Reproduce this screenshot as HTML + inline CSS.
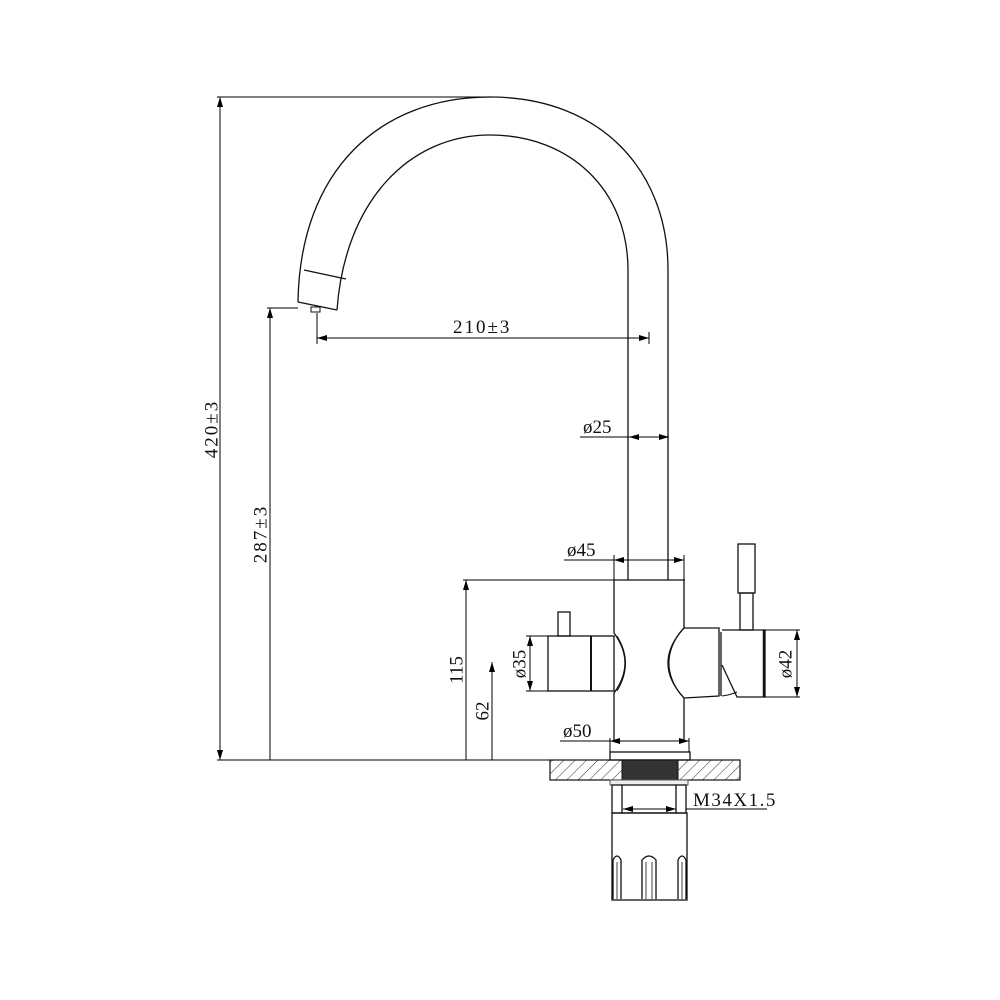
<!DOCTYPE html>
<html><head><meta charset="utf-8"><style>
html,body{margin:0;padding:0;background:#fff}
svg{display:block}
text{font-family:"Liberation Serif",serif;font-size:19px;fill:#111}
</style></head><body>
<svg width="1000" height="1000" viewBox="0 0 1000 1000" xmlns="http://www.w3.org/2000/svg">
<defs>
<marker id="a" viewBox="0 0 10 6" refX="10" refY="3" markerWidth="10" markerHeight="6" markerUnits="userSpaceOnUse" orient="auto"><path d="M0,0 L10,3 L0,6 z" fill="#000"/></marker>
<pattern id="h" width="8" height="8" patternUnits="userSpaceOnUse" patternTransform="rotate(45)"><line x1="0" y1="0" x2="0" y2="8" stroke="#333" stroke-width="1"/></pattern>
</defs>
<g fill="none" stroke="#111" stroke-width="1.3">
<path d="M298 302 C300 170 380 97 490 97 C600 97 668 170 668 270 L668 580"/>
<path d="M337 310 C345 200 410 135 490 135 C570 135 628 190 628 270 L628 580"/>
<line x1="304" y1="270" x2="346" y2="279"/>
<line x1="298" y1="302" x2="337" y2="310"/>
<rect x="311" y="307" width="9" height="5" stroke-width="1"/>
<line x1="613" y1="580" x2="685" y2="580"/>
<path d="M614 580 L614 633 Q636 663 614 693 L614 740"/>
<path d="M684 580 L684 628 Q652 663 684 698 L684 740"/>
<path d="M617 636 Q634 663 617 691" stroke-width="1"/>
<path d="M681 631 Q657 663 681 695" stroke-width="1"/>
<rect x="548" y="636" width="66" height="55"/>
<line x1="591" y1="636" x2="591" y2="691" stroke-width="2"/>
<rect x="558" y="612" width="12" height="24"/>
<path d="M684 628 L719 628 L719 696 L684 698"/>
<line x1="721" y1="632" x2="721" y2="696"/>
<path d="M722 630 L765 630 L765 697 L737 697 L722 665"/>
<line x1="764" y1="630" x2="764" y2="697" stroke-width="2.5"/>
<path d="M722 696 Q730 695 737 692" stroke-width="1"/>
<rect x="738" y="544" width="17" height="49"/>
<rect x="740" y="593" width="13" height="37"/>
<rect x="610" y="752" width="80" height="8"/>
</g>
<rect x="550" y="760" width="190" height="20" fill="url(#h)" stroke="#111" stroke-width="1.2"/>
<rect x="622" y="760" width="56" height="20" fill="#333" stroke="#111"/>
<rect x="610" y="780" width="78" height="5" fill="#eee" stroke="#555"/>
<g fill="none" stroke="#111" stroke-width="1.3">
<rect x="612" y="785" width="74" height="28"/>
<line x1="622" y1="785" x2="622" y2="813"/>
<line x1="676" y1="785" x2="676" y2="813"/>
<rect x="612" y="813" width="75" height="87"/>
<path d="M613 899 L613 860 Q617 852 621 860 L621 899"/>
<path d="M617 862 L617 899" stroke-width="0.8"/>
<path d="M642 899 L642 860 Q649 852 656 860 L656 899"/>
<path d="M646 862 L646 899 M652 862 L652 899" stroke-width="0.8"/>
<path d="M678 899 L678 860 Q682 852 686 860 L686 899"/>
<path d="M682 862 L682 899" stroke-width="0.8"/>
</g>
<g stroke="#000" stroke-width="1" fill="none">
<line x1="217" y1="97" x2="490" y2="97"/>
<line x1="217" y1="760" x2="550" y2="760"/>
<line x1="220" y1="760" x2="220" y2="97" marker-end="url(#a)"/>
<line x1="220" y1="97" x2="220" y2="760" marker-end="url(#a)"/>
<line x1="267" y1="308" x2="298" y2="308"/>
<line x1="270" y1="760" x2="270" y2="308" marker-end="url(#a)"/>
<line x1="463" y1="580" x2="613" y2="580"/>
<line x1="466" y1="760" x2="466" y2="580" marker-end="url(#a)"/>
<line x1="492" y1="760" x2="492" y2="662" marker-end="url(#a)"/>
<line x1="317" y1="313" x2="317" y2="344"/>
<line x1="649" y1="332" x2="649" y2="344"/>
<line x1="317" y1="338" x2="649" y2="338" marker-end="url(#a)"/>
<line x1="649" y1="338" x2="317" y2="338" marker-end="url(#a)"/>
<line x1="580" y1="437" x2="629" y2="437"/>
<line x1="649" y1="437" x2="629" y2="437" marker-end="url(#a)"/>
<line x1="649" y1="437" x2="669" y2="437" marker-end="url(#a)"/>
<line x1="614" y1="580" x2="614" y2="555"/>
<line x1="684" y1="580" x2="684" y2="555"/>
<line x1="564" y1="560" x2="614" y2="560"/>
<line x1="614" y1="560" x2="684" y2="560" marker-end="url(#a)"/>
<line x1="684" y1="560" x2="614" y2="560" marker-end="url(#a)"/>
<line x1="526" y1="636" x2="548" y2="636"/>
<line x1="526" y1="691" x2="548" y2="691"/>
<line x1="530" y1="691" x2="530" y2="636" marker-end="url(#a)"/>
<line x1="530" y1="636" x2="530" y2="691" marker-end="url(#a)"/>
<line x1="765" y1="630" x2="800" y2="630"/>
<line x1="765" y1="697" x2="800" y2="697"/>
<line x1="797" y1="697" x2="797" y2="630" marker-end="url(#a)"/>
<line x1="797" y1="630" x2="797" y2="697" marker-end="url(#a)"/>
<line x1="610" y1="738" x2="610" y2="752"/>
<line x1="689" y1="738" x2="689" y2="752"/>
<line x1="560" y1="741" x2="610" y2="741"/>
<line x1="610" y1="741" x2="689" y2="741" marker-end="url(#a)"/>
<line x1="689" y1="741" x2="610" y2="741" marker-end="url(#a)"/>
<line x1="623" y1="809" x2="676" y2="809" marker-end="url(#a)"/>
<line x1="676" y1="809" x2="623" y2="809" marker-end="url(#a)"/>
<line x1="686" y1="809" x2="767" y2="809"/>
</g>
<text x="213" y="429" text-anchor="middle" dominant-baseline="middle" letter-spacing="2" transform="rotate(-90 213 429)">420±3</text>
<text x="262" y="534" text-anchor="middle" dominant-baseline="middle" letter-spacing="2" transform="rotate(-90 262 534)">287±3</text>
<text x="458" y="670" text-anchor="middle" dominant-baseline="middle" transform="rotate(-90 458 670)">115</text>
<text x="484" y="711" text-anchor="middle" dominant-baseline="middle" transform="rotate(-90 484 711)">62</text>
<text x="521" y="664" text-anchor="middle" dominant-baseline="middle" transform="rotate(-90 521 664)">ø35</text>
<text x="787" y="664" text-anchor="middle" dominant-baseline="middle" transform="rotate(-90 787 664)">ø42</text>
<text x="453" y="333" letter-spacing="2">210±3</text>
<text x="583" y="433">ø25</text>
<text x="567" y="556">ø45</text>
<text x="563" y="737">ø50</text>
<text x="693" y="806" letter-spacing="1.5">M34X1.5</text>
</svg>
</body></html>
